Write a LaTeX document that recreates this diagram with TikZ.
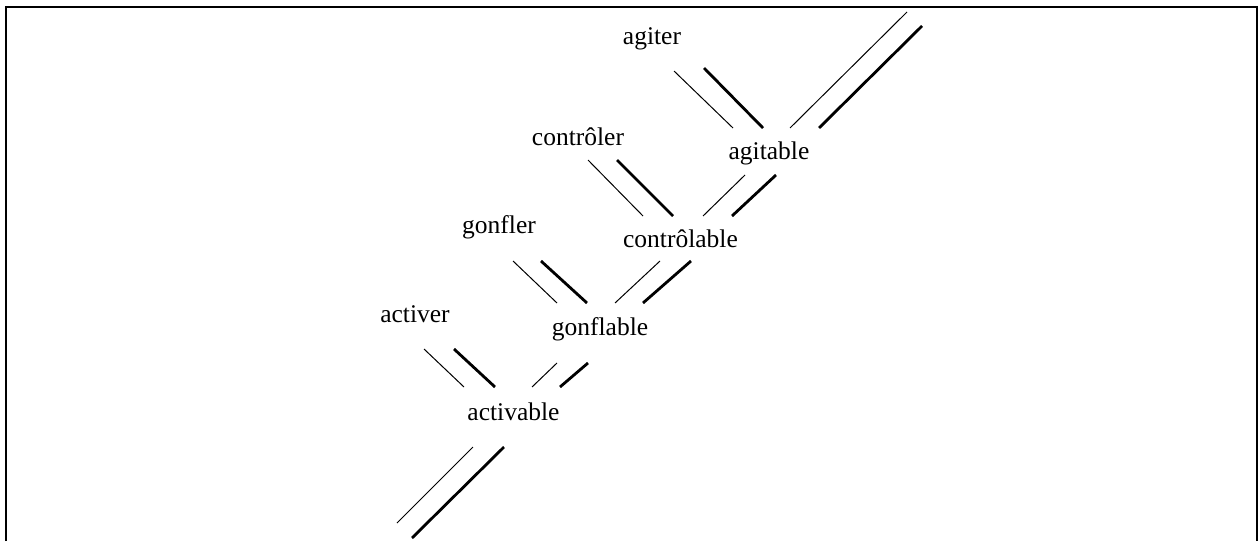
\documentclass[tikz,border=0pt]{standalone}
\usepackage{fontspec}
\setmainfont{Liberation Serif}
\begin{document}
\begin{tikzpicture}[x=1pt,y=-1pt,
  word/.style={anchor=base,inner sep=0pt,font=\fontsize{25.5}{29}\selectfont},
  thinln/.style={line width=1pt},
  thickln/.style={line width=2.8pt},
  frame/.style={line width=2pt}]
\useasboundingbox (0,0) rectangle (1258,541);
\draw[frame] (6,541) -- (6,7) -- (1256.5,7) -- (1256.5,541);
% words
\node[word] (agiter) at (652,44) {agiter};
\node[word] (agitable) at (769,159) {agitable};
\node[word] (controler) at (578,145) {contrôler};
\node[word] (controlable) at (680.5,247) {contrôlable};
\node[word] (gonfler) at (499,233) {gonfler};
\node[word] (gonflable) at (600,335) {gonflable};
\node[word] (activer) at (415,322) {activer};
\node[word] (activable) at (513.5,420) {activable};
% agiter -> agitable
\draw[thinln] (674,71) -- (733,128);
\draw[thickln] (704,68) -- (763,128);
% agitable upward
\draw[thinln] (790,128) -- (907,12);
\draw[thickln] (819,128) -- (922,26);
% controler -> controlable
\draw[thinln] (588,160) -- (643,216);
\draw[thickln] (617,160) -- (673,216);
% controlable -> agitable
\draw[thinln] (703,216) -- (745,175);
\draw[thickln] (732,216) -- (776,175);
% gonfler -> gonflable
\draw[thinln] (513,261) -- (557,303);
\draw[thickln] (541,261) -- (587,303);
% gonflable -> controlable
\draw[thinln] (615,303) -- (660,261);
\draw[thickln] (643,303) -- (691,261);
% activer -> activable
\draw[thinln] (424,349) -- (464,387);
\draw[thickln] (454,349) -- (495,387);
% activable -> gonflable
\draw[thinln] (532,387) -- (557,363);
\draw[thickln] (560,387) -- (588,363);
% activable downward
\draw[thinln] (473,447) -- (397,523);
\draw[thickln] (504,447) -- (412,538);
\end{tikzpicture}
\end{document}
